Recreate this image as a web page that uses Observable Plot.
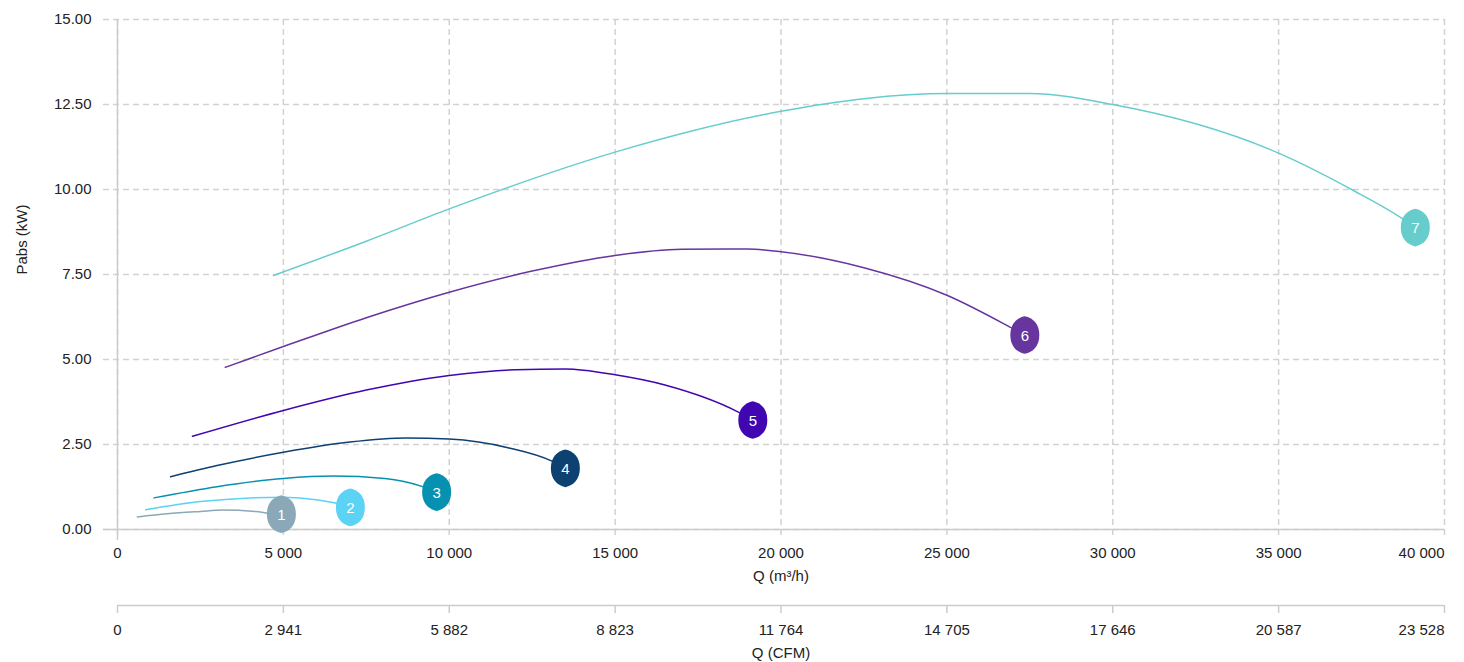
<!DOCTYPE html>
<html>
<head>
<meta charset="utf-8">
<script src="https://cdn.jsdelivr.net/npm/d3@7"></script>
<script src="https://cdn.jsdelivr.net/npm/@observablehq/plot@0.6"></script>
<style>
  html, body { margin: 0; padding: 0; background: #fff; }
  #chart svg { display: block; }
</style>
</head>
<body>
<div id="chart"></div>
<script>
// ---- data ----
const seriesLabels = ["1", "2", "3", "4", "5", "6", "7"];
const seriesColors = ["#8aa8b7", "#5cd2f4", "#0691b1", "#0c4172", "#4006b2", "#66359e", "#66cdcc"];

const q1 = [600, 1500, 2500, 3150, 4150, 4620, 4940];
const p1 = [0.37, 0.46, 0.53, 0.57, 0.53, 0.47, 0.45];
const q2 = [850, 2500, 4000, 5000, 6050, 6650, 7020];
const p2 = [0.58, 0.82, 0.93, 0.95, 0.87, 0.76, 0.65];
const q3 = [1100, 3000, 5000, 6500, 8060, 9200, 9620];
const p3 = [0.93, 1.26, 1.50, 1.57, 1.50, 1.26, 1.10];
const q4 = [1600, 3000, 5000, 7000, 8700, 10000, 11800, 13100, 13500];
const p4 = [1.55, 1.88, 2.27, 2.57, 2.69, 2.66, 2.40, 2.01, 1.80];
const q5 = [2260, 5000, 7500, 10000, 12000, 13500, 15000, 16500, 18700, 19150];
const p5 = [2.74, 3.50, 4.10, 4.53, 4.70, 4.72, 4.55, 4.25, 3.46, 3.22];
const q6 = [3250, 5000, 7500, 10000, 12500, 15000, 17000, 19000, 20000, 22500, 25000, 26950, 27350];
const p6 = [4.77, 5.38, 6.23, 6.98, 7.60, 8.06, 8.24, 8.25, 8.17, 7.70, 6.89, 5.93, 5.72];
const q7 = [4700, 7500, 10000, 15000, 20000, 22500, 25000, 27500, 30000, 35000, 37200, 38800, 39120];
const p7 = [7.47, 8.48, 9.43, 11.10, 12.30, 12.67, 12.82, 12.82, 12.50, 11.07, 10.00, 9.10, 8.88];

const xTicks = [0, 5000, 10000, 15000, 20000, 25000, 30000, 35000, 40000];
const yTicks = [0, 2.5, 5, 7.5, 10, 12.5, 15];
const cfmTicks = [0, 2941, 5882, 8823, 11764, 14705, 17646, 20587, 23528];

const xTitle = "Q (m³/h)";
const yTitle = "Pabs (kW)";
const cfmTitle = "Q (CFM)";

// ---- build tables ----
const qs = [q1, q2, q3, q4, q5, q6, q7];
const ps = [p1, p2, p3, p4, p5, p6, p7];
const rows = [];
const markers = [];
seriesLabels.forEach((s, i) => {
  qs[i].forEach((q, j) => rows.push({series: s, q, p: ps[i][j]}));
  const n = qs[i].length - 1;
  markers.push({series: s, q: qs[i][n], p: ps[i][n]});
});

const spaceFmt = n => d3.format(",")(n).replace(/,/g, " ");

// lemon-shaped marker symbol
const lemon = {
  draw(context, size) {
    const r = Math.sqrt(size / Math.PI);
    const ry = r * 1.3;
    context.moveTo(0, -ry);
    context.bezierCurveTo(0.55 * r, -0.92 * ry, r, -0.6 * ry, r, 0);
    context.bezierCurveTo(r, 0.6 * ry, 0.55 * r, 0.92 * ry, 0, ry);
    context.bezierCurveTo(-0.55 * r, 0.92 * ry, -r, 0.6 * ry, -r, 0);
    context.bezierCurveTo(-r, -0.6 * ry, -0.55 * r, -0.92 * ry, 0, -ry);
    context.closePath();
  }
};

const font = "'Liberation Sans', Arial, Helvetica, sans-serif";
const gridColor = "#d2d2d2";
const axisColor = "#cccccc";
const lastX = xTicks[xTicks.length - 1];
const lastCfm = cfmTicks[cfmTicks.length - 1];

const main = Plot.plot({
  width: 1464,
  height: 590,
  marginLeft: 117,
  marginRight: 20,
  marginTop: 19,
  marginBottom: 61,
  style: {fontFamily: font, fontSize: "15px", color: "#222", background: "#fff"},
  x: {domain: [0, lastX], label: null},
  y: {domain: [0, 15], label: null},
  color: {domain: seriesLabels, range: seriesColors},
  marks: [
    Plot.gridX(xTicks, {stroke: gridColor, strokeOpacity: 1, strokeWidth: 1.5, strokeDasharray: "6,4", insetBottom: -8}),
    Plot.gridY(yTicks, {stroke: gridColor, strokeOpacity: 1, strokeWidth: 1.5, strokeDasharray: "6,4", insetLeft: -14}),
    Plot.ruleX([0], {stroke: axisColor, strokeWidth: 1.5, insetBottom: -11}),
    Plot.ruleY([0], {stroke: axisColor, strokeWidth: 1.5, insetLeft: -14}),
    Plot.axisX(xTicks.slice(0, -1), {tickSize: 0, tickPadding: 18, tickFormat: spaceFmt}),
    Plot.axisX([lastX], {tickSize: 0, tickPadding: 18, tickFormat: spaceFmt, textAnchor: "end"}),
    Plot.axisY(yTicks, {tickSize: 0, tickPadding: 26, tickFormat: d3.format(".2f")}),
    Plot.line(rows, {x: "q", y: "p", z: "series", stroke: "series", strokeWidth: 1.5, curve: "monotone-x"}),
    Plot.dot(markers, {x: "q", y: "p", fill: "series", symbol: lemon, r: 14.5}),
    Plot.text(markers, {x: "q", y: "p", dy: 1, text: "series", fill: "white", fontSize: 15}),
    Plot.text([xTitle], {frameAnchor: "bottom", dy: 51, fontSize: 15, fill: "#222"}),
    Plot.text([yTitle], {frameAnchor: "left", dx: -95, rotate: -90, fontSize: 15, fill: "#222"})
  ]
});

const secondary = Plot.plot({
  width: 1464,
  height: 72,
  marginLeft: 117,
  marginRight: 20,
  marginTop: 0,
  marginBottom: 57,
  style: {fontFamily: font, fontSize: "15px", color: "#222", background: "#fff"},
  x: {domain: [0, lastCfm], label: null},
  y: {domain: [0, 1], axis: null},
  marks: [
    Plot.ruleY([0], {stroke: axisColor, strokeWidth: 1.5}),
    Plot.tickX(cfmTicks, {x: d => d, stroke: axisColor, strokeWidth: 1.5, insetTop: 15, insetBottom: -8}),
    Plot.axisX(cfmTicks.slice(0, -1), {tickSize: 0, tickPadding: 19, tickFormat: spaceFmt}),
    Plot.axisX([lastCfm], {tickSize: 0, tickPadding: 19, tickFormat: spaceFmt, textAnchor: "end"}),
    Plot.text([cfmTitle], {frameAnchor: "bottom", dy: 52, fontSize: 15, fill: "#222"})
  ]
});

const chart = document.getElementById("chart");
chart.appendChild(main);
chart.appendChild(secondary);
</script>
</body>
</html>
